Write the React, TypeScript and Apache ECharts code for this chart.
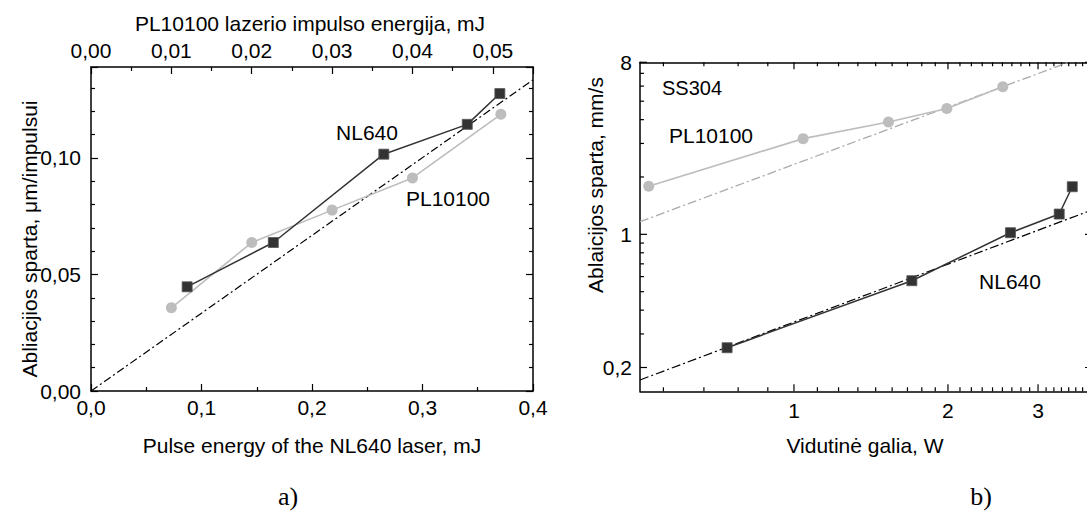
import React, { useEffect, useRef } from "react";
import * as echarts from "echarts";

// ---------- (a) ablation rate vs pulse energy ----------
const nlEnergyA = [0.087, 0.165, 0.265, 0.3405, 0.37];
const nlRateA = [0.0447, 0.0637, 0.1016, 0.1144, 0.1276];
const plEnergyA = [0.01, 0.02, 0.03, 0.04, 0.051];
const plRateA = [0.0357, 0.0637, 0.0776, 0.0914, 0.1187];
const fitAX = [0, 0.4];
const fitAY = [0, 0.1335];

// ---------- (b) ablation rate vs average power ----------
const nlPowerB = [0.74, 1.7, 2.65, 3.3, 3.5];
const nlRateB = [0.254, 0.571, 1.02, 1.278, 1.778];
const plPowerB = [0.52, 1.042, 1.53, 1.99, 2.56];
const plRateB = [1.79, 3.18, 3.89, 4.58, 5.95];
const nlFitBX = [0.5, 3.825];
const nlFitBY = [0.172, 1.343];
const plFitBX = [0.5, 3.44];
const plFitBY = [1.165, 8];

const xMajorB = [1, 2, 3];
const yMajorB = [0.2, 1, 8];
const yMinorB = [0.3, 0.4, 0.5, 0.6, 0.7, 0.8, 0.9, 2, 3, 4, 5, 6, 7];

const FONT = '"Liberation Sans", Arial, sans-serif';
const SERIF = '"Liberation Serif", "Times New Roman", serif';
const FS = 21;
const XMAX_B = 3.825;

const zip = (a: number[], b: number[]) => a.map((v, i) => [v, b[i]]);
const comma = (v: number, d: number) => v.toFixed(d).replace(".", ",");
const fmtB = (v: number) => (v < 1 ? comma(v, 1) : String(v));

export default function App() {
  const ref = useRef<HTMLDivElement>(null);
  useEffect(() => {
    if (!ref.current) return;
    const chart = echarts.init(ref.current, undefined, { renderer: "svg" });

    const lineStyle = { color: "#000", width: 1.5 };
    const tickStyle = { color: "#000", width: 1.2 };
    const axisLabel = (d: number, step: number, margin: number) => ({
      show: true,
      color: "#000",
      fontFamily: FONT,
      fontSize: FS,
      margin,
      formatter: (v: number) => {
        const r = v / step;
        return Math.abs(r - Math.round(r)) < 1e-6 ? comma(v, d) : "";
      },
    });
    const valueAxis = (extra: any) => ({
      type: "value",
      gridIndex: 0,
      axisLine: { show: true, onZero: false, lineStyle },
      axisTick: { show: true, inside: true, length: 7, lineStyle: tickStyle },
      splitLine: { show: false },
      ...extra,
    });
    const logAxis = (extra: any) => ({
      type: "log",
      logBase: 10,
      gridIndex: 1,
      axisLine: { show: true, onZero: false, lineStyle },
      axisTick: { show: false },
      axisLabel: { show: false },
      minorTick: { show: false },
      splitLine: { show: false },
      ...extra,
    });

    // x minor ticks for panel b: 8 linear subdivisions between integer majors
    const xMinorB: number[] = [];
    for (let b = 0; b < 4; b++) {
      for (let k = 1; k <= 8; k++) {
        const v = b + k / 9;
        if (v > 0.5 && v < XMAX_B) xMinorB.push(v);
      }
    }

    const tickRender = (axis: "x" | "y") => (params: any, api: any) => {
      const cs = params.coordSys;
      const major = api.value(2) === 1;
      const len = major ? 7 : 4;
      const st = { stroke: "#000", lineWidth: 1.2 };
      const children: any[] = [];
      if (axis === "x") {
        const v = api.value(0);
        const px = api.coord([v, 1])[0];
        const b = cs.y + cs.height;
        const t = cs.y;
        children.push({ type: "line", shape: { x1: px, y1: b, x2: px, y2: b - len }, style: st });
        children.push({ type: "line", shape: { x1: px, y1: t, x2: px, y2: t + len }, style: st });
        if (major)
          children.push({
            type: "text",
            x: px,
            y: b + 9,
            style: { text: fmtB(v), fill: "#000", font: `${FS}px ${FONT}`, align: "center", verticalAlign: "top" },
          });
      } else {
        const v = api.value(1);
        const py = api.coord([1, v])[1];
        const l = cs.x;
        const r = cs.x + cs.width;
        children.push({ type: "line", shape: { x1: l, y1: py, x2: l + len, y2: py }, style: st });
        children.push({ type: "line", shape: { x1: r, y1: py, x2: r - len, y2: py }, style: st });
        if (major)
          children.push({
            type: "text",
            x: l - 8,
            y: py,
            style: { text: fmtB(v), fill: "#000", font: `${FS}px ${FONT}`, align: "right", verticalAlign: "middle" },
          });
      }
      return { type: "group", children };
    };

    const text = (x: number, y: number, t: string, extra: any = {}, rotation = 0) => ({
      type: "text",
      x,
      y,
      rotation,
      style: { text: t, fill: "#000", font: `${FS}px ${FONT}`, align: "center", verticalAlign: "middle", ...extra },
    });

    chart.setOption({
      animation: false,
      backgroundColor: "#fff",
      grid: [
        { left: 91, top: 67, width: 442, height: 324 },
        { left: 640, top: 62.3, width: 452, height: 329 },
      ],
      xAxis: [
        valueAxis({
          position: "bottom",
          min: 0,
          max: 0.4,
          interval: 0.1,
          minorTick: { show: true, splitNumber: 2, length: 4, lineStyle: tickStyle },
          axisLabel: axisLabel(1, 0.1, 6),
        }),
        valueAxis({
          position: "top",
          min: 0,
          max: 0.055,
          interval: 0.01,
          minorTick: { show: true, splitNumber: 2, length: 4, lineStyle: tickStyle },
          axisLabel: axisLabel(2, 0.01, 6),
        }),
        logAxis({ position: "bottom", min: 0.5, max: XMAX_B }),
        logAxis({ position: "top", min: 0.5, max: XMAX_B }),
      ],
      yAxis: [
        valueAxis({
          position: "left",
          min: 0,
          max: 0.139,
          interval: 0.05,
          minorTick: { show: true, splitNumber: 5, length: 4, lineStyle: tickStyle },
          axisLabel: axisLabel(2, 0.05, 10),
        }),
        valueAxis({
          position: "right",
          min: 0,
          max: 0.139,
          interval: 0.05,
          minorTick: { show: true, splitNumber: 5, length: 4, lineStyle: tickStyle },
          axisLabel: { show: false },
        }),
        logAxis({ position: "left", min: 0.15, max: 8 }),
        logAxis({ position: "right", min: 0.15, max: 8 }),
      ],
      series: [
        // panel a
        {
          type: "line",
          xAxisIndex: 0,
          yAxisIndex: 0,
          data: zip(fitAX, fitAY),
          symbol: "none",
          lineStyle: { color: "#000", width: 1.2, type: [8, 3, 2, 3] },
          silent: true,
        },
        {
          type: "line",
          name: "PL10100",
          xAxisIndex: 1,
          yAxisIndex: 0,
          data: zip(plEnergyA, plRateA),
          symbol: "circle",
          symbolSize: 11,
          itemStyle: { color: "#bdbdbd" },
          lineStyle: { color: "#bdbdbd", width: 1.6 },
        },
        {
          type: "line",
          name: "NL640",
          xAxisIndex: 0,
          yAxisIndex: 0,
          data: zip(nlEnergyA, nlRateA),
          symbol: "rect",
          symbolSize: 10,
          itemStyle: { color: "#333", borderColor: "#555", borderWidth: 0.8 },
          lineStyle: { color: "#333", width: 1.5 },
        },
        // panel b
        {
          type: "line",
          xAxisIndex: 2,
          yAxisIndex: 2,
          data: zip(plFitBX, plFitBY),
          symbol: "none",
          lineStyle: { color: "#aaa", width: 1.3, type: [9, 3, 2, 3] },
          silent: true,
        },
        {
          type: "line",
          xAxisIndex: 2,
          yAxisIndex: 2,
          data: zip(nlFitBX, nlFitBY),
          symbol: "none",
          lineStyle: { color: "#000", width: 1.2, type: [9, 3, 2, 3] },
          silent: true,
        },
        {
          type: "line",
          name: "PL10100 b",
          xAxisIndex: 2,
          yAxisIndex: 2,
          data: zip(plPowerB, plRateB),
          symbol: "circle",
          symbolSize: 11,
          itemStyle: { color: "#bdbdbd" },
          lineStyle: { color: "#bdbdbd", width: 1.6 },
        },
        {
          type: "line",
          name: "NL640 b",
          xAxisIndex: 2,
          yAxisIndex: 2,
          data: zip(nlPowerB, nlRateB),
          symbol: "rect",
          symbolSize: 10,
          itemStyle: { color: "#333", borderColor: "#555", borderWidth: 0.8 },
          lineStyle: { color: "#333", width: 1.5 },
        },
        {
          type: "custom",
          xAxisIndex: 2,
          yAxisIndex: 2,
          silent: true,
          clip: false,
          renderItem: tickRender("x"),
          data: [...xMajorB.map((v) => [v, 1, 1]), ...xMinorB.map((v) => [v, 1, 0])],
        },
        {
          type: "custom",
          xAxisIndex: 2,
          yAxisIndex: 2,
          silent: true,
          clip: false,
          renderItem: tickRender("y"),
          data: [...yMajorB.map((v) => [1, v, 1]), ...yMinorB.map((v) => [1, v, 0])],
        },
      ],
      graphic: [
        text(310, 23, "PL10100 lazerio impulso energija, mJ"),
        text(312, 445, "Pulse energy of the NL640 laser, mJ"),
        text(29, 239, "Abliacjios sparta, μm/impulsui", {}, Math.PI / 2),
        text(367, 132, "NL640"),
        text(448, 198, "PL10100"),
        text(288, 496, "a)", { font: `26px ${SERIF}` }),
        text(865, 445, "Vidutinė galia, W"),
        text(692, 88, "SS304", { font: `20px ${FONT}` }),
        text(711, 135, "PL10100"),
        text(1010, 281, "NL640"),
        text(981, 496, "b)", { font: `26px ${SERIF}` }),
        text(595, 185, "Ablaicijos sparta, mm/s", {}, Math.PI / 2),
      ],
    });
    return () => chart.dispose();
  }, []);

  return (
    <div
      style={{
        position: "fixed",
        left: 0,
        top: 0,
        width: 1087,
        height: 512,
        overflow: "hidden",
        background: "#fff",
      }}
    >
      <div ref={ref} style={{ width: 1100, height: 512 }} />
    </div>
  );
}
